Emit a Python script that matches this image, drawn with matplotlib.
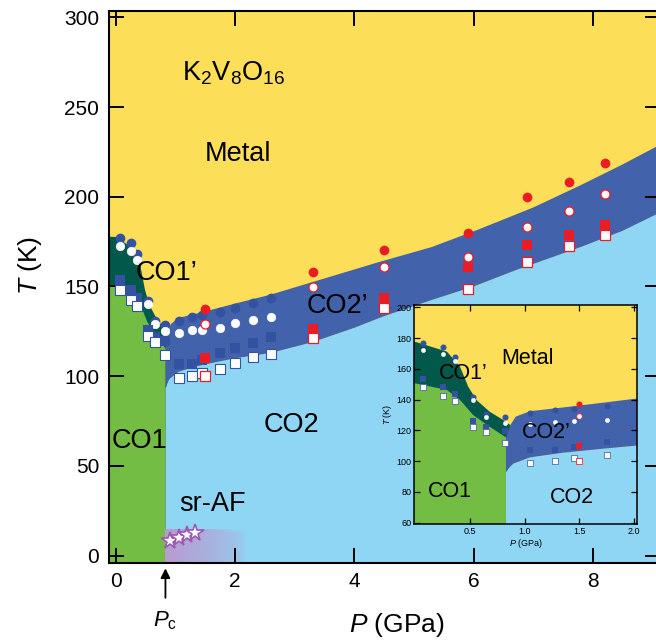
import numpy as np
import matplotlib
matplotlib.use("Agg")
import matplotlib.pyplot as plt
from matplotlib.colors import to_rgb

plt.rcParams['font.family'] = ['Liberation Sans', 'DejaVu Sans']
plt.rcParams['mathtext.fontset'] = 'custom'
plt.rcParams['mathtext.rm'] = 'Liberation Sans'
plt.rcParams['mathtext.it'] = 'Liberation Sans:italic'

# colours
YELLOW = "#FCDE58"
DGREEN = "#02584A"
GREEN = "#74BD45"
DBLUE = "#4262AC"
LBLUE = "#8FD6F5"
RED = "#EC1C24"
BLUE = "#3452A2"
PURPLE = "#B89CCF"
STAR = "#9B59B6"

Pc = 0.83

# phase boundaries (P in GPa, T in K)
dg_top_P = [-0.3, 0.0, 0.29, 0.41, 0.485, 0.56, 0.68, 0.805, 0.87]
dg_top_T = [178, 177.6, 171.2, 161.4, 148.4, 139.8, 132.2, 126.8, 123.5]
green_top_P = [-0.3, 0.0, 0.29, 0.41, 0.53, 0.68, 0.83]
green_top_T = [150.6, 150.6, 146.3, 139.8, 130, 122.4, 115.5]
band_up_P = [0.83, 0.87, 0.92, 1.05, 1.3, 1.6, 2.0, 2.6, 3.3, 4.4, 5.3, 6.1, 7.0, 7.8, 8.5, 9.3]
band_up_T = [115.5, 123.5, 129, 132.5, 134.5, 137, 140.5, 145.5, 152.5, 163.5, 172, 182, 194, 206.5, 218, 232]
band_low_P = [0.83, 0.86, 0.9, 1.05, 1.35, 1.7, 2.0, 2.6, 3.3, 4.0, 4.5, 5.3, 6.0, 6.7, 7.8, 8.5, 9.3]
band_low_T = [93, 96, 98.5, 102.5, 105.5, 108, 110, 113, 119, 127, 133.5, 142.5, 150, 159, 172, 181, 194]

# low pressure data (blue)
P_blue = np.array([0.07, 0.25, 0.36, 0.53, 0.65, 0.82, 1.05, 1.28, 1.45, 1.75, 2.0, 2.3, 2.6])
T_circ_fill = [177, 174, 168, 142, 130.5, 128.5, 131, 133, 134, 136, 137.8, 140.6, 143.4]
T_circ_open = [172.5, 169.5, 165, 140, 129, 125, 124, 125.5, 126, 127, 129.5, 131.3, 132.8]
T_sq_fill = [153.5, 148, 143.5, 126, 122, 119.5, 107, 107, 109, 112.7, 116, 118.3, 122]
T_sq_open = [148, 142.5, 139, 122.5, 119, 112, 99, 100, 102, 104, 107.5, 110.9, 112.4]

# high pressure data (red)
P_red = np.array([1.5, 3.3, 4.5, 5.9, 6.9, 7.6, 8.2])
T_red_circ_fill = [137.4, 158.2, 170.3, 179.8, 199.7, 208.4, 218.6]
T_red_circ_open = [129.2, 149.9, 160.8, 166.2, 183.3, 191.9, 201.3]
T_red_sq_fill = [110, 126.5, 143.4, 161, 173.1, 178.7, 184.2]
T_red_sq_open = [100.3, 121.5, 138, 148.4, 163.8, 172.4, 178.7]

# sr-AF stars
P_star = [0.9, 1.05, 1.19, 1.33]
T_star = [8.4, 9.7, 11.5, 12.5]


def draw_phases(ax):
    ax.set_facecolor(YELLOW)
    ax.fill(dg_top_P + [0.87, -0.3], dg_top_T + [-20, -20], color=DGREEN, lw=0, zorder=1)
    ax.fill([Pc] + band_low_P[1:] + [9.3, Pc], [band_low_T[0]] + band_low_T[1:] + [-20, -20],
            color=LBLUE, lw=0, zorder=1)
    ax.fill(band_up_P + band_low_P[::-1], band_up_T + band_low_T[::-1], color=DBLUE, lw=0, zorder=1)
    ax.fill(green_top_P + [Pc, -0.3], green_top_T + [-20, -20], color=GREEN, lw=0, zorder=1.1)


def draw_points(ax, big, pmax):
    s = 1.0 if big else 0.62
    m = P_blue < pmax
    pb = P_blue[m]
    sel = lambda arr: np.array(arr)[m]
    ax.plot(pb, sel(T_circ_fill), 'o', color=BLUE, ms=7 * s, mew=0, zorder=3)
    ax.plot(pb, sel(T_circ_open), 'o', mfc='white', mec='white', ms=6.3 * s * (1 if big else 0.8), mew=0.3, zorder=3)
    ax.plot(pb, sel(T_sq_fill), 's', color=BLUE, ms=7 * s, mew=0, zorder=3)
    ax.plot(pb, sel(T_sq_open), 's', mfc='white', mec=BLUE, ms=6.5 * s, mew=0.8 * s, zorder=3)
    mr = P_red < pmax
    pr = P_red[mr]
    ax.plot(pr, np.array(T_red_circ_fill)[mr], 'o', color=RED, ms=7 * s, mew=0, zorder=3)
    ax.plot(pr, np.array(T_red_circ_open)[mr], 'o', mfc='white', mec=RED, ms=6.5 * s, mew=0.9 * s, zorder=3)
    ax.plot(pr, np.array(T_red_sq_fill)[mr], 's', color=RED, ms=7 * s, mew=0, zorder=3)
    ax.plot(pr, np.array(T_red_sq_open)[mr], 's', mfc='white', mec=RED, ms=6.5 * s, mew=0.9 * s, zorder=3)


fig = plt.figure(figsize=(6.56, 6.42), dpi=100)
ax = fig.add_axes([109 / 656, 79.3 / 642, 551 / 656, 551.7 / 642])
ax.set_xlim(-0.117, 9.128)
ax.set_ylim(-3.9, 303.5)
draw_phases(ax)

# sr-AF gradient
nx, ny = 200, 40
xx = np.linspace(0, 1, nx)
yy = np.linspace(0, 1, ny)
alpha = np.clip(1 - xx, 0, 1) ** 0.6
rgba = np.zeros((ny, nx, 4))
rgba[..., :3] = to_rgb(PURPLE)
top_fade = np.clip((1 - yy) / 0.15, 0, 1)[:, None]
rgba[..., 3] = alpha[None, :] * np.minimum(1, top_fade + (1 - xx[None, :]) * 2)
ax.imshow(rgba, extent=[Pc, 2.2, -4, 15], origin='lower', aspect='auto',
          interpolation='bilinear', zorder=1.5)
ax.plot(P_star, T_star, '*', mfc='white', mec=STAR, ms=13, mew=1.2, zorder=3)

draw_points(ax, True, 99)

ax.set_xticks([0, 2, 4, 6, 8])
ax.set_yticks(np.arange(0, 301, 50))
ax.tick_params(direction='in', top=True, right=True, length=11, width=1.4,
               labelsize=15, pad=7)
for sp in ax.spines.values():
    sp.set_linewidth(1.5)

lab = dict(fontsize=19.5, zorder=4)
ax.text(1.1, 269, r'$\mathrm{K_2V_8O_{16}}$', ha='left', va='center', **lab)
ax.text(2.05, 224, 'Metal', ha='center', va='center', **lab)
ax.text(0.84, 157.5, 'CO1’', ha='center', va='center', **lab)
ax.text(3.2, 139, 'CO2’', ha='left', va='center', **lab)
ax.text(2.94, 73, 'CO2', ha='center', va='center', **lab)
ax.text(0.4, 64, 'CO1', ha='center', va='center', **lab)
ax.text(1.62, 29, 'sr-AF', ha='center', va='center', **lab)

ax.annotate('', xy=(Pc, -5.5), xytext=(Pc, -25), annotation_clip=False,
            arrowprops=dict(arrowstyle='-|>', color='black', lw=1.3, mutation_scale=14))
ax.text(Pc, -36, r'$P_\mathrm{c}$', ha='center', va='center', fontsize=16, clip_on=False)

fig.text(397 / 656, 3 / 642, r'$P$ (GPa)', ha='center', va='bottom', fontsize=19)
fig.text(30 / 656, 1 - 265 / 642, r'$T$ (K)', ha='center', va='center', rotation=90, fontsize=19)

# inset
ax2 = fig.add_axes([414.3 / 656, 118 / 642, 222.4 / 656, 219 / 642])
ax2.set_xlim(-0.008, 2.025)
ax2.set_ylim(59.2, 201.5)
draw_phases(ax2)
draw_points(ax2, False, 1.95)
ax2.set_xticks([0.5, 1.0, 1.5, 2.0])
ax2.set_xticklabels(['0.5', '1.0', '1.5', '2.0'])
ax2.set_yticks(np.arange(60, 201, 20))
ax2.tick_params(direction='in', top=True, right=True, length=4, width=0.9,
                labelsize=6.5, pad=2)
for sp in ax2.spines.values():
    sp.set_linewidth(1.1)
ax2.set_xlabel(r'$P$ (GPa)', fontsize=6.5, labelpad=1)
ax2.set_ylabel(r'$T$ (K)', fontsize=6.5, labelpad=2)
lab2 = dict(fontsize=15.5, zorder=4)
ax2.text(1.03, 167, 'Metal', ha='center', va='center', **lab2)
ax2.text(0.44, 157, 'CO1’', ha='center', va='center', **lab2)
ax2.text(1.2, 118.6, 'CO2’', ha='center', va='center', **lab2)
ax2.text(0.32, 80, 'CO1', ha='center', va='center', **lab2)
ax2.text(1.43, 76.4, 'CO2', ha='center', va='center', **lab2)

fig.savefig('out.png', dpi=100)
